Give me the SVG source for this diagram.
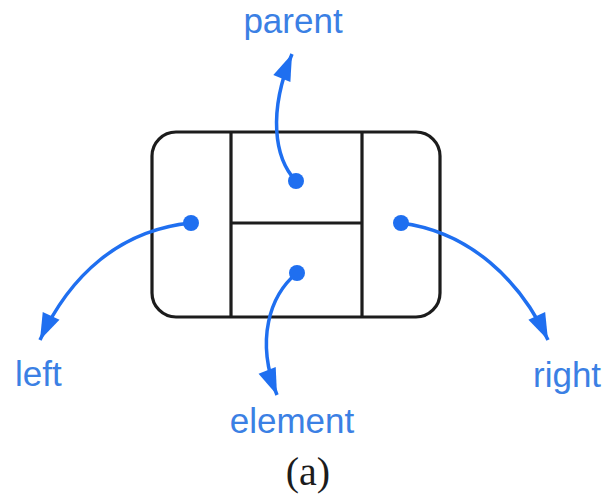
<svg xmlns="http://www.w3.org/2000/svg" width="610" height="503" viewBox="0 0 610 503">
<style>
.frame{fill:none;stroke:#1c1c1c;stroke-width:3.2}
.conn{fill:none;stroke:#1f6ff0;stroke-width:3.5}
.dot{fill:#1f6ff0}
.lbl{font-family:"Liberation Sans",Arial,sans-serif;font-size:35px;fill:#3b80e4}
.cap{font-family:"Liberation Serif","Times New Roman",serif;font-size:40px;fill:#1c1c1c}
</style>
<defs>
<marker id="ah" markerUnits="userSpaceOnUse" markerWidth="30" markerHeight="30" viewBox="-24 -10 26 20" refX="0" refY="0" orient="auto">
<path d="M0,0 L-23,-8 L-23,8 z" fill="#1f6ff0"/>
</marker>
</defs>
<g id="node">
<rect class="frame" x="152" y="132" width="288" height="185" rx="24" ry="24"/>
<line class="frame" x1="231" y1="132" x2="231" y2="317"/>
<line class="frame" x1="362" y1="132" x2="362" y2="317"/>
<line class="frame" x1="231" y1="223" x2="362" y2="223"/>
</g>
<g id="connectors">
<path class="conn" d="M296,181 C274,158 268,112 292,54" marker-end="url(#ah)"/>
<path class="conn" d="M297,273 C270,295 255,340 277,395" marker-end="url(#ah)"/>
<path class="conn" d="M191,223 C120,230 70,275 40,340" marker-end="url(#ah)"/>
<path class="conn" d="M401,223 C470,232 520,280 548,340" marker-end="url(#ah)"/>
</g>
<g id="dots">
<circle class="dot" cx="296" cy="181" r="8"/>
<circle class="dot" cx="297" cy="273" r="8"/>
<circle class="dot" cx="191" cy="223" r="8"/>
<circle class="dot" cx="401" cy="223" r="8"/>
</g>
<g id="labels">
<text class="lbl" x="293" y="33" text-anchor="middle">parent</text>
<text class="lbl" x="15" y="386">left</text>
<text class="lbl" x="533" y="387">right</text>
<text class="lbl" x="292" y="433" text-anchor="middle">element</text>
<text class="cap" x="308" y="485" text-anchor="middle">(a)</text>
</g>
</svg>
